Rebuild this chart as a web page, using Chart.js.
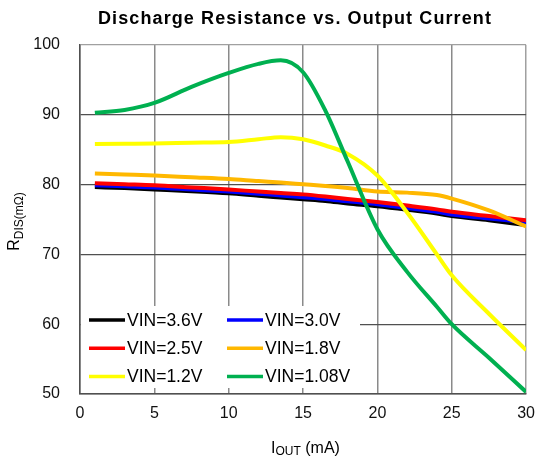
<!DOCTYPE html>
<html>
<head>
<meta charset="utf-8">
<script src="https://cdn.jsdelivr.net/npm/chart.js@4/dist/chart.umd.min.js"></script>
<style>
html,body{margin:0;padding:0;background:#fff;}
canvas{display:block;}
</style>
</head>
<body>
<canvas id="c" width="545" height="464"></canvas>
<script>
const chartTitle = "Discharge Resistance vs. Output Current";
const currents = [1, 3, 5, 7.5, 10, 12, 13.5, 15, 16.5, 18, 20, 22, 24, 25, 27.5, 30];
const seriesLabels = ["VIN=3.6V", "VIN=3.0V", "VIN=2.5V", "VIN=1.8V", "VIN=1.2V", "VIN=1.08V"];
const vin36  = [79.65, 79.5, 79.3, 79.05, 78.75, 78.4, 78.15, 77.9, 77.65, 77.3, 76.9, 76.4, 75.85, 75.5, 74.9, 74.2];
const vin30  = [79.9, 79.75, 79.6, 79.3, 79.0, 78.7, 78.45, 78.2, 77.95, 77.6, 77.2, 76.65, 76.1, 75.7, 75.15, 74.6];
const vin25  = [80.2, 80.05, 79.9, 79.6, 79.3, 79.0, 78.8, 78.6, 78.3, 77.95, 77.5, 77.0, 76.45, 76.1, 75.5, 74.9];
const vin18  = [81.6, 81.45, 81.3, 81.05, 80.8, 80.5, 80.3, 80.05, 79.8, 79.5, 79.0, 78.85, 78.5, 78.0, 76.3, 74.0];
const vin12  = [85.8, 85.85, 85.9, 86.0, 86.1, 86.5, 86.8, 86.5, 85.6, 84.4, 81.3, 76.0, 70.0, 67.0, 61.5, 56.3];
const vin108 = [90.3, 90.7, 91.7, 94.0, 96.0, 97.3, 97.8, 96.1, 90.6, 83.3, 73.6, 67.5, 62.5, 60.0, 55.2, 50.3];
const seriesValues = [vin36, vin30, vin25, vin18, vin12, vin108];
const xTicks = [0, 5, 10, 15, 20, 25, 30];
const yTicks = [50, 60, 70, 80, 90, 100];

const colors = ["#000000", "#0000FF", "#FF0000", "#FFB800", "#FFFF00", "#00B050"];
const FONT = "'Liberation Sans', Arial, sans-serif";

const datasets = seriesValues.map((vals, i) => ({
  label: seriesLabels[i],
  data: vals.map((v, j) => ({x: currents[j], y: v})),
  borderColor: colors[i],
  backgroundColor: colors[i],
  borderWidth: 4,
  pointRadius: 0,
  fill: false,
  cubicInterpolationMode: 'monotone',
  order: seriesValues.length - i
}));

const overlay = {
  id: 'overlay',
  afterDatasetsDraw(chart) {
    const ctx = chart.ctx;
    const ca = chart.chartArea;
    // legend box inside plot
    ctx.save();
    ctx.fillStyle = '#ffffff';
    ctx.fillRect(ca.left + 1, 306, 279, 82);
    ctx.font = "17.5px " + FONT;
    ctx.textBaseline = 'middle';
    ctx.textAlign = 'left';
    chart.data.datasets.forEach((ds, i) => {
      const col = i % 2, row = Math.floor(i / 2);
      const x0 = col === 0 ? 89 : 227;
      const y = 320 + row * 28.3;
      ctx.strokeStyle = ds.borderColor;
      ctx.lineWidth = 3.5;
      ctx.beginPath();
      ctx.moveTo(x0, y);
      ctx.lineTo(x0 + 36, y);
      ctx.stroke();
      ctx.fillStyle = '#000';
      ctx.fillText(ds.label, x0 + 38, y + 1);
    });
    ctx.restore();
  },
  afterDraw(chart) {
    const ctx = chart.ctx;
    const ca = chart.chartArea;
    ctx.save();
    // title
    ctx.fillStyle = '#000';
    ctx.font = "bold 18px " + FONT;
    ctx.textAlign = 'center';
    ctx.textBaseline = 'alphabetic';
    try { ctx.letterSpacing = '1.1px'; } catch (e) {}
    ctx.fillText(chartTitle, 295, 24);
    try { ctx.letterSpacing = '0px'; } catch (e) {}

    // x axis title: I_OUT (mA)
    ctx.textAlign = 'left';
    const parts = [["I", "16px", 0], ["OUT", "12px", 2], [" (mA)", "16px", 0]];
    let total = 0;
    parts.forEach(p => { ctx.font = p[1] + " " + FONT; total += ctx.measureText(p[0]).width; });
    let x = 305.5 - total / 2;
    parts.forEach(p => {
      ctx.font = p[1] + " " + FONT;
      ctx.fillText(p[0], x, 453 + p[2]);
      x += ctx.measureText(p[0]).width;
    });

    // y axis title: R_DIS(mΩ)
    ctx.translate(18.5, (ca.top + ca.bottom) / 2 + 2);
    ctx.rotate(-Math.PI / 2);
    const yparts = [["R", "16px", 0], ["DIS(mΩ)", "12px", 4]];
    total = 0;
    yparts.forEach(p => { ctx.font = p[1] + " " + FONT; total += ctx.measureText(p[0]).width; });
    x = -total / 2;
    yparts.forEach(p => {
      ctx.font = p[1] + " " + FONT;
      ctx.fillText(p[0], x, p[2]);
      x += ctx.measureText(p[0]).width;
    });
    ctx.restore();
  }
};

new Chart(document.getElementById('c'), {
  type: 'line',
  data: { datasets },
  options: {
    responsive: false,
    animation: false,
    devicePixelRatio: 1,
    layout: { padding: { top: 45, right: 11, left: 0, bottom: 0 } },
    plugins: { legend: { display: false }, tooltip: { enabled: false }, title: { display: false } },
    scales: {
      x: {
        type: 'linear',
        min: 0, max: 30,
        afterBuildTicks: s => { s.ticks = xTicks.map(v => ({value: v})); },
        afterFit: s => { s.height = 70; },
        ticks: { color: '#111', font: { family: FONT, size: 16 }, padding: 10, maxRotation: 0 },
        grid: { color: c => c.tick && c.tick.value === 30 ? '#a0a0a0' : '#8a8a8a', lineWidth: 1.5, drawTicks: false },
        border: { display: true, color: '#505050', width: 1.5 }
      },
      y: {
        type: 'linear',
        min: 50, max: 100,
        afterBuildTicks: s => { s.ticks = yTicks.map(v => ({value: v})); },
        afterFit: s => { s.width = 80; },
        ticks: { color: '#111', font: { family: FONT, size: 16 }, padding: 20 },
        grid: { color: c => c.tick && c.tick.value === 100 ? '#a0a0a0' : '#505050', lineWidth: 1.2, drawTicks: false },
        border: { display: true, color: '#505050', width: 1.5 }
      }
    }
  },
  plugins: [overlay]
});
</script>
</body>
</html>
